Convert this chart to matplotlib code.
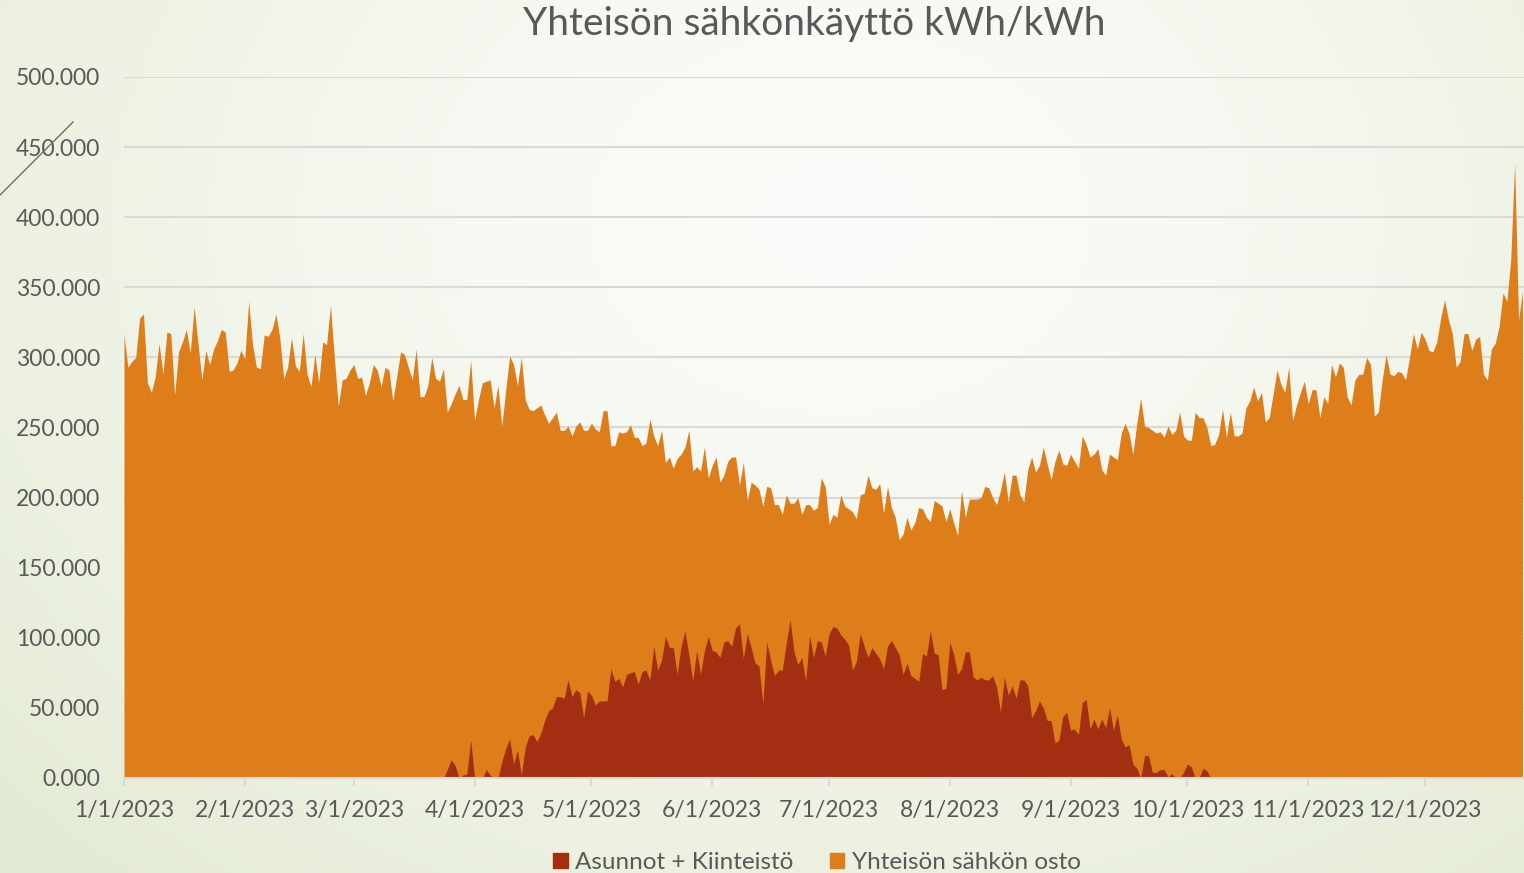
import numpy as np
import pandas as pd
import matplotlib
matplotlib.use("Agg")
import matplotlib.pyplot as plt
from matplotlib.patches import Patch
from matplotlib.lines import Line2D
from matplotlib.ticker import FuncFormatter

# Päivittäiset arvot 1.1.2023 alkaen (kWh)
osto = [
    316, 293, 297, 300, 328, 331, 282, 275, 286, 310, 288, 318, 317, 273, 304, 311, 320, 303, 336, 310,
    284, 305, 295, 306, 312, 320, 318, 290, 291, 296, 305, 299, 340, 309, 293, 292, 316, 315, 320, 331,
    314, 285, 293, 314, 294, 290, 317, 288, 279, 302, 282, 311, 309, 337, 300, 265, 284, 285, 291, 295,
    285, 286, 273, 282, 295, 291, 279, 293, 291, 269, 286, 304, 302, 293, 284, 306, 272, 272, 280, 300,
    285, 283, 292, 261, 267, 274, 280, 270, 270, 298, 255, 270, 282, 283, 284, 264, 280, 251, 277, 301,
    295, 280, 300, 270, 263, 262, 264, 266, 259, 253, 257, 261, 248, 248, 251, 244, 251, 254, 248, 248,
    253, 249, 247, 262, 262, 237, 237, 247, 246, 247, 252, 243, 243, 237, 239, 256, 244, 237, 248, 225,
    229, 221, 228, 231, 236, 248, 219, 222, 219, 236, 214, 223, 229, 211, 216, 226, 229, 229, 209, 225,
    198, 211, 209, 206, 194, 208, 207, 195, 195, 188, 202, 196, 196, 200, 188, 195, 195, 191, 193, 214,
    208, 181, 188, 186, 202, 194, 192, 190, 185, 202, 203, 216, 207, 206, 210, 189, 208, 193, 186, 170,
    174, 186, 177, 182, 193, 192, 186, 183, 198, 196, 194, 183, 192, 182, 173, 205, 186, 199, 199, 199,
    200, 208, 207, 200, 195, 205, 218, 197, 216, 216, 202, 197, 220, 229, 218, 223, 236, 224, 213, 226,
    234, 224, 223, 231, 226, 221, 244, 238, 229, 231, 235, 220, 216, 231, 229, 227, 246, 253, 246, 231,
    253, 271, 251, 250, 248, 246, 247, 243, 251, 245, 248, 261, 244, 241, 241, 261, 257, 257, 250, 237,
    238, 245, 263, 243, 261, 244, 244, 246, 264, 269, 279, 269, 275, 254, 257, 274, 291, 281, 275, 293,
    255, 266, 275, 283, 267, 277, 277, 257, 272, 267, 295, 286, 296, 293, 272, 266, 284, 288, 288, 300,
    295, 258, 261, 284, 302, 288, 287, 290, 289, 284, 300, 317, 306, 318, 313, 305, 304, 311, 328, 341,
    327, 317, 293, 297, 317, 317, 305, 313, 315, 288, 284, 306, 310, 322, 346, 340, 370, 439, 327, 347,
]

asunnot = [0] * 82 + [
    0, 6, 13, 9, 0, 2, 3, 27, 0, 0, 0, 6, 2, 0, 0, 12, 21, 28, 10, 20,
    2, 22, 30, 31, 26, 32, 41, 48, 50, 58, 58, 57, 70, 58, 63, 61, 43, 62, 59, 52,
    55, 55, 55, 78, 69, 71, 65, 74, 75, 76, 67, 76, 77, 70, 94, 77, 84, 101, 93, 93,
    74, 94, 105, 88, 69, 91, 74, 91, 101, 91, 90, 86, 97, 98, 94, 107, 110, 85, 103, 93,
    82, 80, 53, 97, 84, 73, 77, 77, 96, 113, 90, 81, 86, 69, 102, 86, 98, 97, 87, 103,
    108, 107, 102, 99, 95, 77, 83, 103, 94, 86, 93, 89, 85, 78, 94, 98, 93, 88, 74, 82,
    73, 71, 69, 89, 87, 105, 89, 88, 63, 64, 97, 88, 74, 78, 90, 90, 72, 70, 72, 70,
    70, 73, 65, 47, 72, 59, 66, 57, 70, 70, 66, 43, 48, 55, 50, 41, 41, 25, 27, 44,
    47, 34, 35, 31, 54, 56, 35, 42, 35, 42, 36, 50, 34, 45, 28, 22, 24, 10, 7, 0,
    16, 16, 4, 4, 6, 6, 1, 3, 0, 0, 4, 10, 8, 0, 0, 7, 5, 0,
]
asunnot = asunnot + [0] * (len(osto) - len(asunnot))

dates = pd.date_range("2023-01-01", periods=len(osto), freq="D")
month_starts = pd.date_range("2023-01-01", periods=12, freq="MS")
month_labels = [f"{d.month}/1/2023" for d in month_starts]

series_names = ["Asunnot + Kiinteistö", "Yhteisön sähkön osto"]
c_orange = "#DE7E1A"
c_red = "#A42E11"
text_col = "#595959"
grid_col = "#D9D9D9"

plt.rcParams["font.family"] = ["Lato", "DejaVu Sans"]

fig = plt.figure(figsize=(15.24, 8.73), dpi=100)

# taustan liukuväri
bg = fig.add_axes([0, 0, 1, 1], zorder=-10)
h, w = 200, 350
yy, xx = np.mgrid[0:h, 0:w]
dist = np.sqrt(((xx / w - 0.55) / 0.75) ** 2 + ((yy / h - 0.25) / 1.0) ** 2)
t = np.clip(dist, 0, 1) ** 1.4
white = np.array([251, 252, 249]) / 255
green = np.array([228, 235, 212]) / 255
img = white[None, None, :] * (1 - t[..., None]) + green[None, None, :] * t[..., None]
bg.imshow(img, aspect="auto", extent=[0, 1, 0, 1], origin="upper")
bg.axis("off")

ax = fig.add_axes([124 / 1524, 1 - 778 / 873, 1 - 124 / 1524, (778 - 77) / 873])
ax.patch.set_alpha(0)
ax.fill_between(dates, 0, osto, color=c_orange, linewidth=0, zorder=2)
ax.fill_between(dates, 0, asunnot, color=c_red, linewidth=0, zorder=3)

ax.set_ylim(0, 500)
ax.set_xlim(dates[0], dates[0] + pd.Timedelta(days=359.4))
ax.set_yticks(np.arange(0, 501, 50))
ax.yaxis.set_major_formatter(FuncFormatter(lambda v, p: f"{v:.3f}"))
ax.set_xticks(month_starts)
ax.set_xticklabels(month_labels)
ax.grid(axis="y", color=grid_col, linewidth=1.5, zorder=1)
ax.set_axisbelow(True)
for s in ["left", "right", "top"]:
    ax.spines[s].set_visible(False)
ax.spines["bottom"].set_color(grid_col)
ax.spines["bottom"].set_linewidth(1.5)
ax.spines["bottom"].set_zorder(5)
ax.tick_params(axis="y", length=0, pad=17, labelsize=16.5, labelcolor=text_col)
ax.tick_params(axis="x", length=6, width=1.5, color=grid_col, pad=10,
               labelsize=16.5, labelcolor=text_col)

fig.text(0.534, 0.973, "Yhteisön sähkönkäyttö kWh/kWh", ha="center", va="center",
         fontsize=28, color=text_col)

handles = [Patch(color=c_red), Patch(color=c_orange)]
fig.legend(handles, series_names, loc="center", bbox_to_anchor=(0.536, 0.012), ncol=2,
           frameon=False, fontsize=17.5, labelcolor=text_col, handlelength=0.6,
           handleheight=0.6, handletextpad=0.3, columnspacing=1.5)

# koristeviiva vasemmassa yläkulmassa
fig.add_artist(Line2D([0, 73 / 1524], [1 - 195 / 873, 1 - 122 / 873],
                      color="#7A6A4F", linewidth=1, transform=fig.transFigure))

fig.savefig("out.png", dpi=100)
